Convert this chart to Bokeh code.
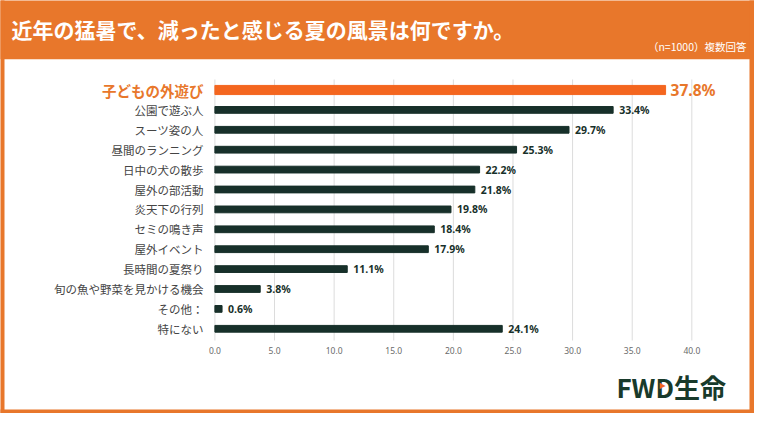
from bokeh.embed import file_html
from bokeh.resources import INLINE
from bokeh.models import BoxAnnotation, Label, Range1d, ColumnDataSource
from bokeh.plotting import figure
from bokeh.core.properties import value

# data
categories = ["子どもの外遊び", "公園で遊ぶ人", "スーツ姿の人", "昼間のランニング", "日中の犬の散歩",
              "屋外の部活動", "炎天下の行列", "セミの鳴き声", "屋外イベント", "長時間の夏祭り",
              "旬の魚や野菜を見かける機会", "その他：", "特にない"]
percents = [37.8, 33.4, 29.7, 25.3, 22.2, 21.8, 19.8, 18.4, 17.9, 11.1, 3.8, 0.6, 24.1]
x_ticks = [0, 5, 10, 15, 20, 25, 30, 35, 40]
x_tick_labels = ["0.0", "5.0", "10.0", "15.0", "20.0", "25.0", "30.0", "35.0", "40.0"]
title_text = "近年の猛暑で、減ったと感じる夏の風景は何ですか。"
subtitle_text = "（n=1000）複数回答"

ORANGE = "#e8772b"
BAR_ORANGE = "#f4661f"
DARK = "#17302a"
JP = "Noto Sans CJK JP"

W, H = 754, 413

# pixel <-> data helpers (the frame fills the whole figure)
X0, UX = 214.4, 11.923
Y0, UY = 89.5, 19.90


def dx(px):
    return (px - X0) / UX


def dy(py):
    return (py - Y0) / UY


p = figure(width=W, height=H, output_backend="svg", toolbar_location=None, tools="",
           x_range=Range1d(dx(0), dx(W)), y_range=Range1d(dy(H), dy(0)),
           min_border=0)
p.outline_line_color = None
p.background_fill_color = "white"
p.border_fill_color = "white"
p.grid.grid_line_color = None
p.xaxis.visible = False
p.yaxis.visible = False

# grid lines and tick labels
p.segment(x0=x_ticks, x1=x_ticks, y0=[dy(79)] * len(x_ticks), y1=[dy(340)] * len(x_ticks),
          line_color="#dcdcdc", line_width=1)
p.text(x=x_ticks, y=[dy(349.5)] * len(x_ticks), text=x_tick_labels, text_align="center",
       text_baseline="middle", text_font=value("Noto Sans"), text_font_size="8.5px",
       text_color="#6a6a6a")

rows = list(range(len(categories)))
main = ColumnDataSource(dict(y=rows[1:], v=percents[1:], cat=categories[1:],
                             lab=[f"{v:.1f}%" for v in percents[1:]]))
top = ColumnDataSource(dict(y=rows[:1], v=percents[:1], cat=categories[:1],
                            lab=[f"{v:.1f}%" for v in percents[:1]]))

p.hbar(y="y", left=0, right="v", height=0.34, color=DARK, source=main)
p.hbar(y="y", left=0, right="v", height=0.46, color=BAR_ORANGE, source=top)

p.text(x=dx(203), y="y", text="cat", source=main, text_align="right", text_baseline="middle",
       text_font=value(JP), text_font_size="11.5px", text_color="#444444")
p.text(x=dx(203), y="y", text="cat", source=top, text_align="right", text_baseline="middle",
       text_font=value(JP), text_font_size="14.5px", text_font_style="bold", text_color=ORANGE)

p.text(x="v", y="y", text="lab", source=main, x_offset=6, text_align="left", text_baseline="middle",
       text_font=value("Noto Sans"), text_font_size="10.5px", text_font_style="bold", text_color=DARK)
p.text(x="v", y="y", text="lab", source=top, x_offset=5, text_align="left", text_baseline="middle",
       text_font=value("Noto Sans"), text_font_size="15.5px", text_font_style="bold", text_color=ORANGE)

# header band and panel border
for l, r, t, b in [(-20, W + 20, -20, 58.7), (-20, 4, -20, H + 20),
                   (749, W + 20, -20, H + 20), (-20, W + 20, 409, H + 20)]:
    p.add_layout(BoxAnnotation(left=dx(l), right=dx(r), top=dy(t), bottom=dy(b),
                               fill_color=ORANGE, fill_alpha=1, line_color=None))

p.add_layout(Label(x=dx(11), y=dy(28), text=title_text, text_color="white", text_font=JP,
                   text_font_size="21px", text_font_style="bold", text_baseline="middle"))
p.add_layout(Label(x=dx(746), y=dy(45.5), text=subtitle_text, text_color="white", text_font=JP,
                   text_font_size="10.5px", text_align="right", text_baseline="middle"))

# logo
p.add_layout(Label(x=dx(616), y=dy(386), text="FWD生命", text_color="#183a2b", text_font=JP,
                   text_font_size="26px", text_font_style="bold", text_baseline="middle"))
p.add_layout(Label(x=dx(662), y=dy(385), text="▶", text_color=BAR_ORANGE, text_font="DejaVu Sans",
                   text_font_size="8px", text_align="center", text_baseline="middle"))

open("out.html", "w").write(file_html(p, INLINE))
